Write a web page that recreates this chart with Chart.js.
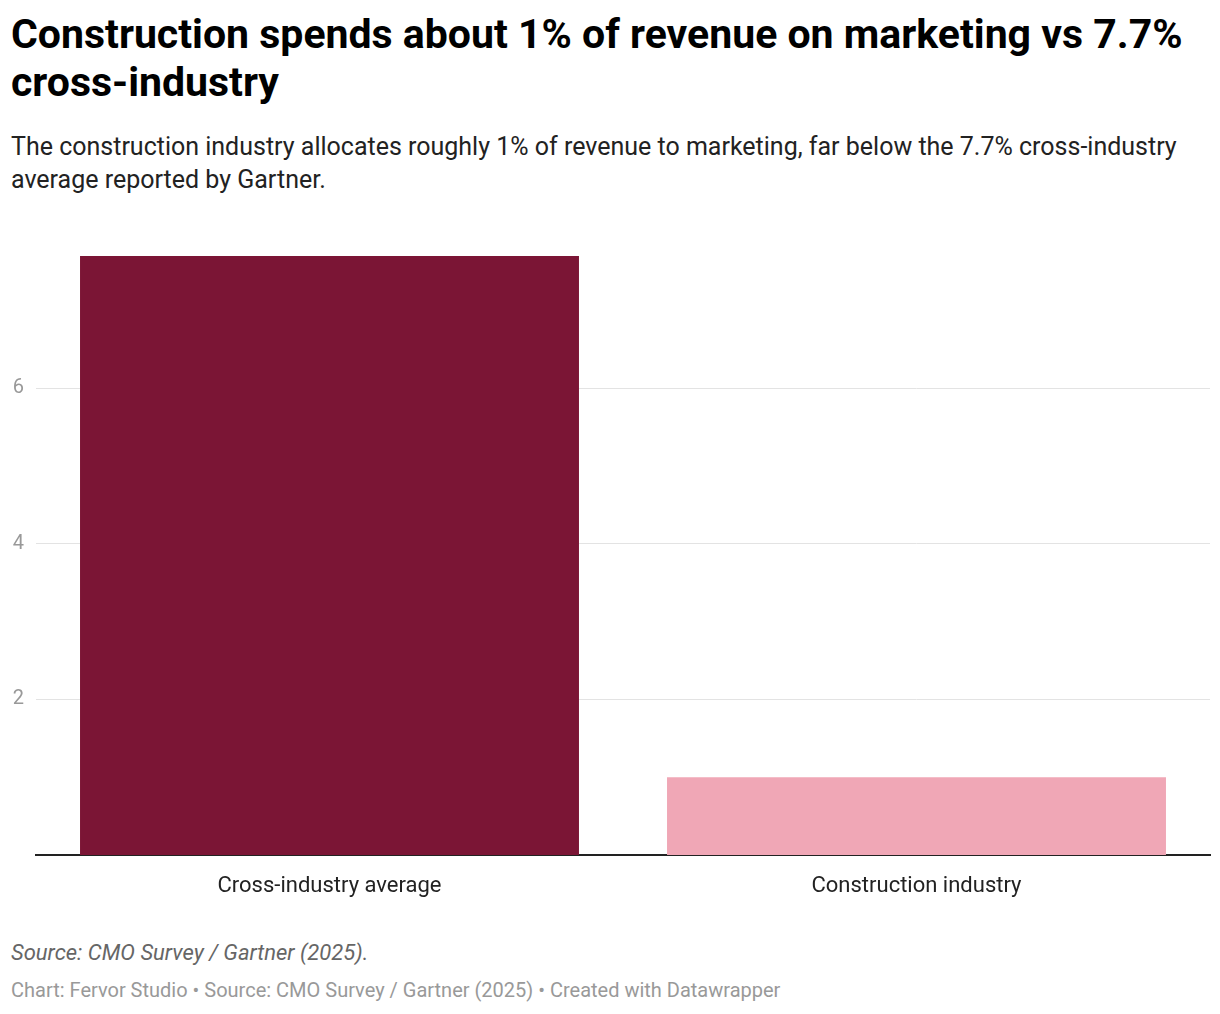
<!DOCTYPE html>
<html>
<head>
<meta charset="utf-8">
<script src="https://cdn.jsdelivr.net/npm/chart.js@4"></script>
<style>
  body { margin: 0; width: 1220px; height: 1014px; background: #fff; font-family: Roboto, sans-serif; position: relative; }
  h1 { position: absolute; left: 11px; top: 10px; margin: 0; font-size: 41px; line-height: 48px; font-weight: 700; color: #000; width: 1200px; }
  .sub { position: absolute; left: 11px; top: 130px; font-size: 25px; line-height: 33px; color: #222; width: 1200px; }
  #wrap { position: absolute; left: 0; top: 220px; width: 1220px; height: 680px; }
  .src { position: absolute; left: 11px; top: 940px; font-size: 22px; font-style: italic; color: #666; }
  .credit { position: absolute; left: 11px; top: 978px; font-size: 20px; color: #999; }
</style>
</head>
<body>
<h1>Construction spends about 1% of revenue on marketing vs 7.7% cross-industry</h1>
<div class="sub">The construction industry allocates roughly 1% of revenue to marketing, far below the 7.7% cross-industry average reported by Gartner.</div>
<div id="wrap"><canvas id="c"></canvas></div>
<div class="src">Source: CMO Survey / Gartner (2025).</div>
<div class="credit">Chart: Fervor Studio • Source: CMO Survey / Gartner (2025) • Created with Datawrapper</div>
<script>
const categories = ['Cross-industry average', 'Construction industry'];
const spendPct = [7.7, 1.0];
const barColors = ['#7b1535', '#f0a7b6'];
const yTicks = [2, 4, 6];

new Chart(document.getElementById('c'), {
  type: 'bar',
  data: {
    labels: categories,
    datasets: [{ data: spendPct, backgroundColor: barColors, categoryPercentage: 1, barPercentage: 0.85 }]
  },
  options: {
    responsive: true,
    maintainAspectRatio: false,
    animation: false,
    layout: { padding: { top: 36, right: 10 } },
    plugins: { legend: { display: false }, tooltip: { enabled: false } },
    scales: {
      x: {
        grid: { display: false },
        border: { color: '#222', width: 2 },
        ticks: { color: '#222', font: { family: 'Roboto', size: 22 }, padding: 10 },
        afterFit: s => { s.height = 45; }
      },
      y: {
        min: 0, max: 7.7,
        border: { display: false },
        grid: { color: '#e3e3e3', drawTicks: false, lineWidth: 1 },
        afterBuildTicks: s => { s.ticks = yTicks.map(v => ({ value: v })); },
        ticks: { color: '#999', font: { family: 'Roboto', size: 20 }, padding: 12 },
        afterFit: s => { s.width = 36; }
      }
    }
  }
});
</script>
</body>
</html>
